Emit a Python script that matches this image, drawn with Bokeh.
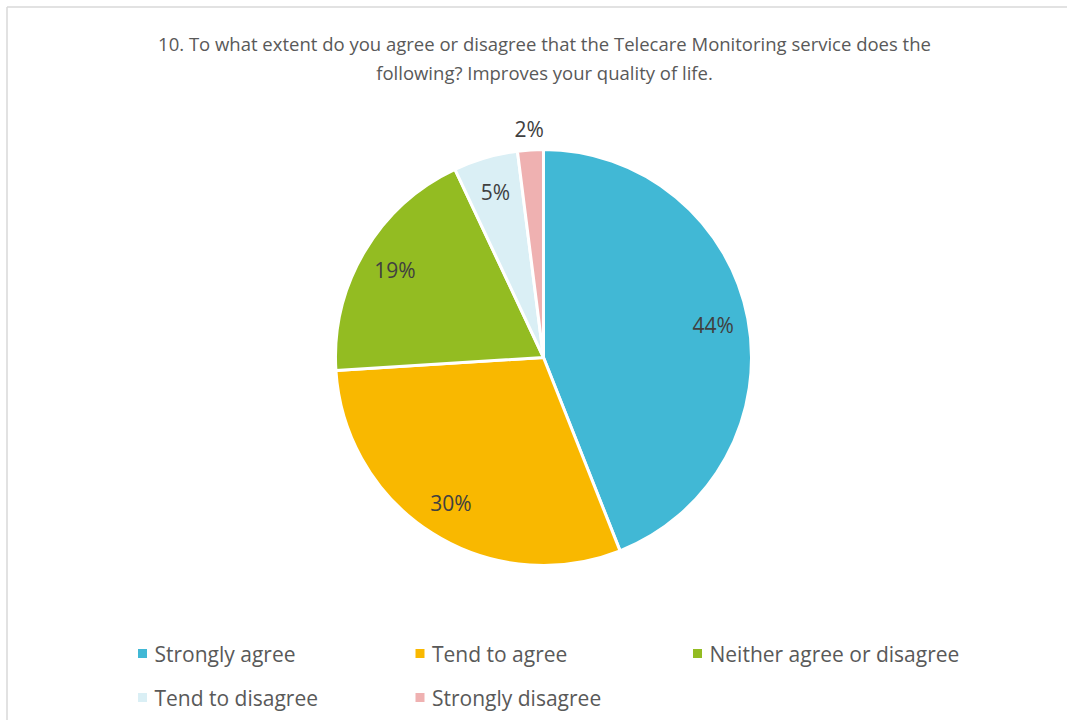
import math
from bokeh.plotting import figure
from bokeh.models import ColumnDataSource, Range1d
from bokeh.core.properties import value
from bokeh.embed import file_html
from bokeh.resources import INLINE

# ---- data ----
categories = ["Strongly agree", "Tend to agree", "Neither agree or disagree",
              "Tend to disagree", "Strongly disagree"]
percentages = [44, 30, 19, 5, 2]
colors = ["#41B8D5", "#F9B800", "#93BC22", "#DAEFF5", "#EFB1B1"]
title_lines = ["10. To what extent do you agree or disagree that the Telecare Monitoring service does the",
               "following? Improves your quality of life."]

W, H = 1067, 720
PAGE_H = 720
FONT = "Open Sans"

p = figure(width=W, height=H, output_backend="svg", toolbar_location=None,
           x_range=Range1d(0, W), y_range=Range1d(PAGE_H - H, PAGE_H),
           min_border=0, outline_line_color=None, background_fill_color="white")
p.axis.visible = False
p.grid.visible = False

def Y(page_y):
    return PAGE_H - page_y

# border (left and top edges, the rest is cropped)
p.multi_line(xs=[[6.5, 6.5], [6.5, W]], ys=[[Y(6.5), Y(H + 20)], [Y(6.5), Y(6.5)]],
             line_color="#D9D9D9", line_width=1.5)

# title
for i, t in enumerate(title_lines):
    p.text(x=[544], y=[Y(43 + i * 29)], text=[t], text_align="center",
           text_baseline="middle", text_font=value(FONT), text_font_size="18.5px",
           text_color="#595959")

# pie
cx, cy, R = 543, Y(357), 208
total = sum(percentages)
starts, ends, mids = [], [], []
cum = 0.0
for v in percentages:
    a0 = math.pi / 2 - 2 * math.pi * cum / total
    cum += v
    a1 = math.pi / 2 - 2 * math.pi * cum / total
    starts.append(a0)
    ends.append(a1)
    mids.append((a0 + a1) / 2)

src = ColumnDataSource(dict(cat=categories, val=percentages, color=colors,
                            start=starts, end=ends))
p.wedge(x=cx, y=cy, radius=R, start_angle="start", end_angle="end",
        direction="clock", fill_color="color", line_color="white",
        line_width=3, source=src)

# data labels
lx, ly, lt = [], [], []
for v, m in zip(percentages, mids):
    r = R * 0.83 if v / total >= 0.03 else R + 21
    lx.append(cx + r * math.cos(m))
    ly.append(cy + r * math.sin(m))
    lt.append(f"{v}%")
p.text(x=lx, y=ly, text=lt, text_align="center", text_baseline="middle",
       text_font=value(FONT), text_font_size="21px", text_color="#404040")

# legend
gx, gy = [], []
for i in range(len(categories)):
    gx.append(142 + (i % 3) * 277.5)
    gy.append(Y(653 + (i // 3) * 44))
p.scatter(x=gx, y=gy, marker="square", size=9, fill_color=colors, line_color=None)
p.text(x=[x + 12 for x in gx], y=gy, text=categories, text_align="left",
       text_baseline="middle", text_font=value(FONT), text_font_size="21px",
       text_color="#595959")

open("out.html", "w").write(file_html(p, INLINE))
